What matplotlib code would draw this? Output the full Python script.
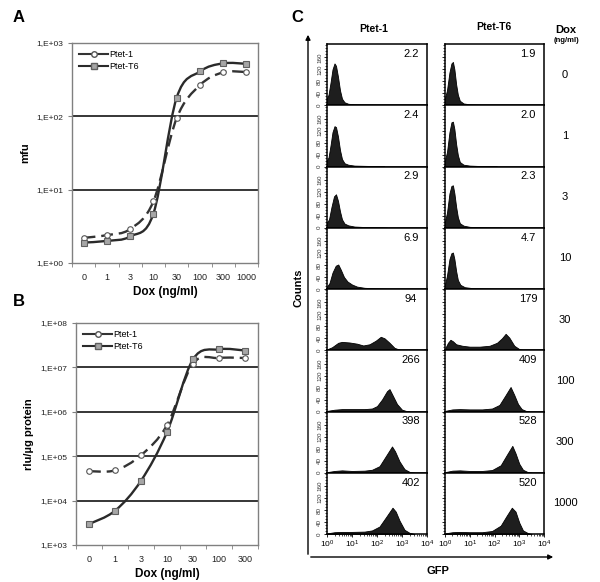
import numpy as np
import matplotlib
matplotlib.use("Agg")
import matplotlib.pyplot as plt
from matplotlib.path import Path
from matplotlib.patches import PathPatch, FancyArrowPatch
from matplotlib.lines import Line2D
from matplotlib.ticker import FixedLocator, LogLocator, LogFormatterMathtext, NullFormatter

plt.rcParams['font.family'] = ['Liberation Sans', 'DejaVu Sans']

# ---- datos panel A (mfu) ----
dox_a = ['0', '1', '3', '10', '30', '100', '300', '1000']
mfu_ptet1 = [2.2, 2.4, 2.9, 6.9, 94, 266, 398, 402]
mfu_ptetT6 = [1.9, 2.0, 2.3, 4.7, 179, 409, 528, 520]

# ---- datos panel B (rlu/ug protein) ----
dox_b = ['0', '1', '3', '10', '30', '100', '300']
rlu_ptet1 = [4.6e4, 4.8e4, 1.05e5, 5.0e5, 1.22e7, 1.63e7, 1.63e7]
rlu_ptetT6 = [2.96e3, 5.9e3, 2.8e4, 3.5e5, 1.52e7, 2.56e7, 2.4e7]

# ---- datos panel C: histogramas (log10 GFP, counts) ----
dox_c = ['0', '1', '3', '10', '30', '100', '300', '1000']
mean_ptet1 = ['2.2', '2.4', '2.9', '6.9', '94', '266', '398', '402']
mean_ptetT6 = ['1.9', '2.0', '2.3', '4.7', '179', '409', '528', '520']

p1_dox0 = [(0, 25), (0.06, 35), (0.14, 75), (0.22, 120), (0.3, 140), (0.36, 132), (0.44, 95), (0.52, 50), (0.6, 22), (0.7, 10), (0.85, 5), (1.1, 3), (1.6, 2), (2.1, 1), (2.3, 0)]
p1_dox1 = [(0, 22), (0.06, 30), (0.14, 70), (0.22, 115), (0.3, 135), (0.36, 132), (0.44, 100), (0.52, 55), (0.6, 25), (0.7, 11), (0.85, 6), (1.1, 3), (1.6, 2), (2.1, 1), (2.3, 0)]
p1_dox3 = [(0, 18), (0.08, 28), (0.18, 70), (0.28, 105), (0.36, 112), (0.44, 90), (0.52, 55), (0.6, 28), (0.7, 14), (0.85, 8), (1.1, 4), (1.6, 2), (2.2, 1), (2.4, 0)]
p1_dox10 = [(0, 8), (0.1, 20), (0.22, 55), (0.35, 78), (0.45, 82), (0.55, 65), (0.68, 40), (0.82, 25), (1.0, 15), (1.2, 8), (1.5, 4), (2.0, 2), (2.5, 0)]
p1_dox30 = [(0, 3), (0.2, 10), (0.45, 25), (0.6, 28), (0.9, 26), (1.2, 22), (1.45, 16), (1.7, 20), (1.95, 32), (2.15, 45), (2.3, 40), (2.5, 25), (2.7, 8), (2.9, 2), (3.0, 0)]
p1_dox100 = [(0, 2), (0.3, 6), (0.6, 8), (1.0, 8), (1.5, 8), (1.8, 10), (2.0, 18), (2.2, 40), (2.4, 68), (2.5, 75), (2.62, 55), (2.8, 25), (3.0, 6), (3.2, 1), (3.3, 0)]
p1_dox300 = [(0, 2), (0.3, 6), (0.6, 8), (1.0, 6), (1.5, 7), (1.8, 10), (2.1, 22), (2.35, 55), (2.6, 88), (2.72, 72), (2.9, 38), (3.1, 12), (3.3, 3), (3.5, 0)]
p1_dox1000 = [(0, 2), (0.3, 6), (0.6, 7), (1.0, 7), (1.5, 8), (1.8, 12), (2.1, 25), (2.35, 55), (2.62, 88), (2.75, 75), (2.9, 45), (3.1, 14), (3.3, 4), (3.5, 0)]

t6_dox0 = [(0, 25), (0.08, 50), (0.18, 110), (0.26, 140), (0.32, 145), (0.38, 120), (0.45, 70), (0.52, 35), (0.6, 15), (0.75, 6), (1.0, 3), (1.5, 1), (2.0, 0)]
t6_dox1 = [(0, 22), (0.08, 48), (0.18, 115), (0.26, 148), (0.32, 150), (0.38, 125), (0.45, 75), (0.52, 38), (0.6, 15), (0.75, 6), (1.0, 3), (1.6, 1), (2.1, 0)]
t6_dox3 = [(0, 22), (0.08, 50), (0.18, 115), (0.26, 140), (0.32, 142), (0.38, 115), (0.45, 70), (0.52, 35), (0.6, 15), (0.75, 7), (1.0, 3), (1.7, 1), (2.3, 0)]
t6_dox10 = [(0, 15), (0.08, 45), (0.18, 100), (0.26, 120), (0.32, 122), (0.38, 100), (0.45, 60), (0.52, 30), (0.62, 14), (0.8, 6), (1.1, 3), (1.8, 1), (2.3, 0)]
t6_dox30 = [(0, 5), (0.12, 25), (0.22, 35), (0.32, 30), (0.45, 20), (0.7, 15), (1.0, 12), (1.4, 12), (1.8, 15), (2.1, 25), (2.3, 40), (2.45, 55), (2.6, 42), (2.8, 15), (3.0, 4), (3.2, 0)]
t6_dox100 = [(0, 2), (0.3, 7), (0.6, 8), (1.0, 7), (1.5, 7), (1.9, 10), (2.2, 22), (2.45, 55), (2.65, 82), (2.8, 55), (2.95, 25), (3.1, 8), (3.3, 1), (3.4, 0)]
t6_dox300 = [(0, 2), (0.3, 7), (0.6, 8), (1.0, 6), (1.5, 6), (1.9, 9), (2.25, 25), (2.5, 60), (2.72, 90), (2.85, 65), (3.0, 30), (3.15, 10), (3.35, 2), (3.5, 0)]
t6_dox1000 = [(0, 2), (0.3, 6), (0.6, 7), (1.0, 6), (1.5, 6), (1.9, 10), (2.25, 28), (2.5, 62), (2.7, 88), (2.85, 75), (3.0, 38), (3.15, 12), (3.35, 3), (3.5, 0)]

hist_ptet1 = [p1_dox0, p1_dox1, p1_dox3, p1_dox10, p1_dox30, p1_dox100, p1_dox300, p1_dox1000]
hist_ptetT6 = [t6_dox0, t6_dox1, t6_dox3, t6_dox10, t6_dox30, t6_dox100, t6_dox300, t6_dox1000]


def smooth_line(ax, x, y, **kw):
    # curva suavizada tipo Excel (Catmull-Rom -> Bezier) en espacio log
    pts = np.column_stack([np.asarray(x, float), np.log10(y)])
    n = len(pts)
    verts = [pts[0]]
    codes = [Path.MOVETO]
    for i in range(n - 1):
        p0 = pts[max(i - 1, 0)]
        p1 = pts[i]
        p2 = pts[i + 1]
        p3 = pts[min(i + 2, n - 1)]
        verts += [p1 + (p2 - p0) / 6, p2 - (p3 - p1) / 6, p2]
        codes += [Path.CURVE4] * 3
    verts = np.array(verts)
    verts[:, 1] = 10 ** verts[:, 1]
    ax.add_patch(PathPatch(Path(verts, codes), fill=False, **kw))


def curve_panel(ax, cats, y1, y6, ylo, yhi, ylabel):
    x = np.arange(len(cats))
    ax.set_yscale('log')
    ax.set_xlim(-0.5, len(cats) - 0.5)
    ax.set_ylim(ylo, yhi)
    decades = [10 ** k for k in range(int(np.log10(ylo)), int(np.log10(yhi)) + 1)]
    for d in decades[1:-1]:
        ax.axhline(d, color='black', lw=1.1, zorder=1)
    smooth_line(ax, x, y1, color='#333333', lw=1.7, linestyle=(0, (5, 2.5)), zorder=2)
    smooth_line(ax, x, y6, color='#2a2a2a', lw=1.7, zorder=2)
    ax.plot(x, y1, 'o', ms=4, mfc='white', mec='#555555', mew=0.8, zorder=3)
    ax.plot(x, y6, 's', ms=5, mfc='#a6a6a6', mec='#606060', mew=0.8, zorder=3)
    ax.yaxis.set_major_locator(FixedLocator(decades))
    ax.yaxis.set_minor_locator(FixedLocator([]))
    ax.set_yticklabels(['1,E+%02d' % int(np.log10(d)) for d in decades])
    ax.set_xticks(x)
    ax.set_xticklabels(cats)
    ax.set_xticks(np.arange(len(cats) + 1) - 0.5, minor=True)
    ax.tick_params(axis='x', which='major', length=0, labelsize=6.5, pad=7, colors='#222222')
    ax.tick_params(axis='x', which='minor', length=3, color='#808080')
    ax.tick_params(axis='y', which='major', length=3, labelsize=6, color='#808080', labelcolor='#222222')
    for s in ax.spines.values():
        s.set_color('#808080')
        s.set_linewidth(1.0)
    ax.set_xlabel('Dox (ng/ml)', fontsize=8.5, fontweight='bold', labelpad=3)
    ax.set_ylabel(ylabel, fontsize=8, fontweight='bold', labelpad=4)
    handles = [Line2D([], [], color='#333333', lw=1.5, marker='o', ms=4, mfc='white', mec='#555555'),
               Line2D([], [], color='#2a2a2a', lw=1.5, marker='s', ms=5, mfc='#a6a6a6', mec='#606060')]
    ax.legend(handles, ['Ptet-1', 'Ptet-T6'], loc='upper left', frameon=False, fontsize=6.5,
              handlelength=3.2, handletextpad=0.1, borderaxespad=0.4, labelspacing=0.3)


W, H = 600, 582
fig = plt.figure(figsize=(6, 5.82), dpi=100)


def frac(x0, y0, x1, y1):
    return [x0 / W, 1 - y1 / H, (x1 - x0) / W, (y1 - y0) / H]


# Panel A
axA = fig.add_axes(frac(72, 43, 258, 263))
curve_panel(axA, dox_a, mfu_ptet1, mfu_ptetT6, 1, 1000, 'mfu')

# Panel B
axB = fig.add_axes(frac(76, 323, 258, 545))
curve_panel(axB, dox_b, rlu_ptet1, rlu_ptetT6, 1e3, 1e8, 'rlu/µg protein')

# Panel C
row_h = 61.25
cols = [(327, 427, hist_ptet1, mean_ptet1), (445, 544, hist_ptetT6, mean_ptetT6)]
for ci, (x0, x1, hists, means) in enumerate(cols):
    for ri in range(8):
        y0 = 44 + row_h * ri
        ax = fig.add_axes(frac(x0, y0, x1, y0 + row_h))
        pts = np.array(hists[ri])
        gfp = 10 ** pts[:, 0]
        ax.fill_between(gfp, 0, pts[:, 1], color='#1e1e1e', lw=0.6, edgecolor='black')
        ax.set_xscale('log')
        ax.set_xlim(1, 1e4)
        ax.set_ylim(0, 205)
        ax.set_yticks([0, 40, 80, 120, 160])
        ax.set_yticks(np.arange(0, 201, 10), minor=True)
        ax.tick_params(axis='y', which='major', length=2.5, width=0.6, labelsize=4.5, pad=1,
                       labelleft=(ci == 0), labelcolor='#333333')
        ax.tick_params(axis='y', which='minor', length=1.5, width=0.5)
        for lab in ax.get_yticklabels():
            lab.set_rotation(90)
            lab.set_va('center')
        ax.xaxis.set_major_locator(LogLocator(base=10, numticks=10))
        ax.xaxis.set_minor_locator(LogLocator(base=10, subs=np.arange(2, 10), numticks=10))
        if ri == 7:
            ax.xaxis.set_major_formatter(LogFormatterMathtext())
            ax.xaxis.set_minor_formatter(NullFormatter())
            ax.tick_params(axis='x', which='major', length=2.5, width=0.6, labelsize=6, pad=1)
            ax.tick_params(axis='x', which='minor', length=1.5, width=0.5)
        else:
            ax.tick_params(axis='x', which='both', length=0, labelbottom=False)
        for s in ax.spines.values():
            s.set_linewidth(1.1)
        ax.text(0.84, 0.84, means[ri], transform=ax.transAxes, ha='center', va='center', fontsize=8)
        if ci == 1:
            fig.text(565 / W, 1 - (y0 + row_h / 2) / H, dox_c[ri], ha='center', va='center', fontsize=8)

# encabezados panel C
fig.text(374 / W, 1 - 29 / H, 'Ptet-1', ha='center', va='center', fontsize=7.5, fontweight='bold')
fig.text(494 / W, 1 - 27 / H, 'Ptet-T6', ha='center', va='center', fontsize=7.5, fontweight='bold')
fig.text(566 / W, 1 - 30 / H, 'Dox', ha='center', va='center', fontsize=8, fontweight='bold')
fig.text(566 / W, 1 - 41 / H, '(ng/ml)', ha='center', va='center', fontsize=5.5, fontweight='bold')
fig.text(298 / W, 1 - 288 / H, 'Counts', ha='center', va='center', fontsize=8, fontweight='bold', rotation=90)
fig.text(438 / W, 1 - 571 / H, 'GFP', ha='center', va='center', fontsize=8, fontweight='bold')

# ejes con flecha
fig.add_artist(FancyArrowPatch((308 / W, 1 - 557 / H), (308 / W, 1 - 32 / H), transform=fig.transFigure,
                               arrowstyle='-|>', mutation_scale=7, lw=1.0, color='black'))
fig.add_artist(FancyArrowPatch((308 / W, 1 - 557 / H), (556 / W, 1 - 557 / H), transform=fig.transFigure,
                               arrowstyle='-|>', mutation_scale=7, lw=1.0, color='black'))

# letras de panel
fig.text(19 / W, 1 - 17 / H, 'A', ha='center', va='center', fontsize=12, fontweight='bold')
fig.text(19 / W, 1 - 301 / H, 'B', ha='center', va='center', fontsize=12, fontweight='bold')
fig.text(297 / W, 1 - 17 / H, 'C', ha='center', va='center', fontsize=12, fontweight='bold')

fig.savefig('out.png', dpi=100)
